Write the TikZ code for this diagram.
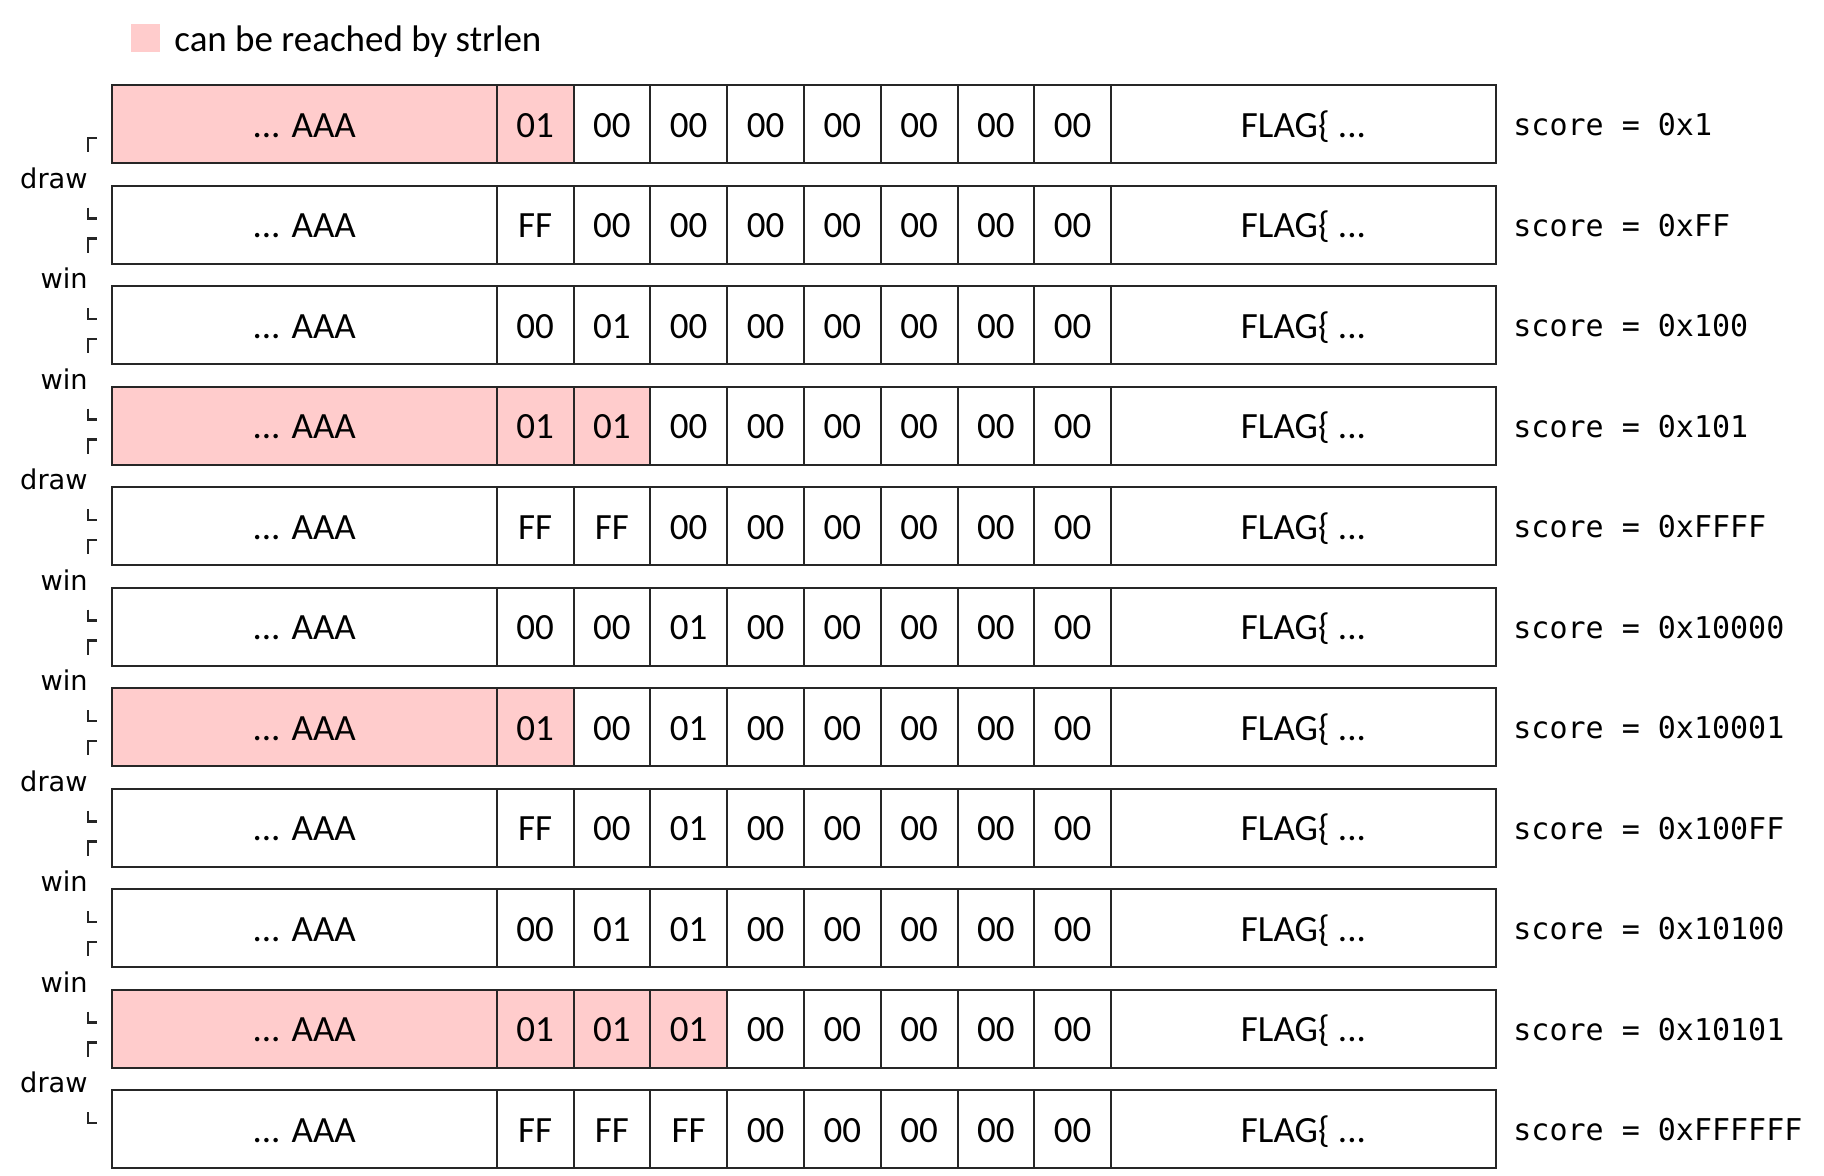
\documentclass[tikz,border=0pt]{standalone}
\usepackage{fontspec}
\setmainfont{Carlito}
\newfontfamily\labfont{DejaVu Sans}
\newfontfamily\monofont{DejaVu Sans Mono}
\definecolor{reach}{RGB}{255,204,204}
\begin{document}
\begin{tikzpicture}[x=0.5pt,y=-0.5pt,
  cell/.style={draw=black!85, line width=1pt, minimum height=39pt, inner sep=0pt,
    text height=13pt, text depth=0pt, font=\fontsize{18.5}{20}\selectfont},
  wide/.style={cell, minimum width=192.5pt},
  byte/.style={cell, minimum width=38.4pt},
  scoretxt/.style={anchor=west, inner sep=0pt, font=\monofont\fontsize{15}{17}\selectfont},
  outcome/.style={anchor=east, inner sep=0pt, font=\labfont\fontsize{13.6}{15}\selectfont},
  tick/.style={line width=1.1pt, black!85}]
\useasboundingbox (0,0) rectangle (1824,1175);
% legend
\node[fill=reach, minimum width=14.5pt, minimum height=14pt, inner sep=0pt] (key) at (145,38) {};
\node[anchor=west, inner sep=0pt, text height=13pt, text depth=0pt, font=\fontsize{18.5}{20}\selectfont] (keytext) at (174,38) {can be reached by strlen};
% rows
\foreach \i/\n/\ba/\bb/\bc/\sc in {0/1/01/00/00/0x1, 1/0/FF/00/00/0xFF, 2/0/00/01/00/0x100,
  3/2/01/01/00/0x101, 4/0/FF/FF/00/0xFFFF, 5/0/00/00/01/0x10000, 6/1/01/00/01/0x10001,
  7/0/FF/00/01/0x100FF, 8/0/00/01/01/0x10100, 9/3/01/01/01/0x10101, 10/0/FF/FF/FF/0xFFFFFF}{
  \pgfmathsetmacro\y{124+100.5*\i}
  \ifnum\n>0 \def\fa{reach}\else\def\fa{white}\fi
  \node[wide, fill=\fa] (r\i-a) at (304.2,\y) {... AAA};
  \foreach \j/\v in {1/\ba,2/\bb,3/\bc,4/00,5/00,6/00,7/00,8/00}{
    \ifnum\j>\n \def\fc{white}\else\def\fc{reach}\fi
    \node[byte, fill=\fc] (r\i-b\j) at ({496.7+76.8*(\j-0.5)},\y) {\v};
  }
  \node[wide, fill=white] (r\i-f) at (1303.5,\y) {FLAG\{ ...};
  \node[scoretxt] (s\i) at (1513,\y+1) {score = \sc};
}
% outcome labels between rows
\foreach \k/\t in {0/draw,1/win,2/win,3/draw,4/win,5/win,6/draw,7/win,8/win,9/draw}{
  \pgfmathsetmacro\tk{85+100.5*\k}
  \node[outcome] (l\k) at (88,\tk+93) {\t};
  \draw[tick] (97,\tk+53) -- (88,\tk+53) -- (88,\tk+67);
  \draw[tick] (88,\tk+122.5) -- (88,\tk+133.5) -- (97,\tk+133.5);
}
\end{tikzpicture}
\end{document}
